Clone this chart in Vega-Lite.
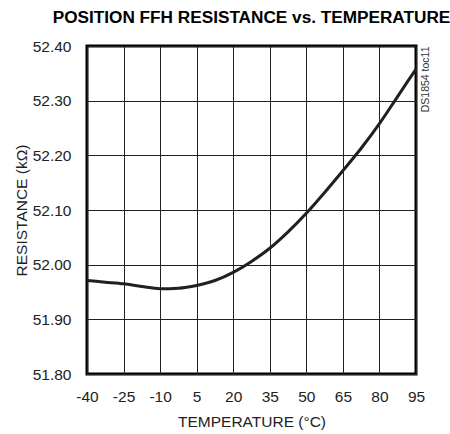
{
  "$schema": "https://vega.github.io/schema/vega-lite/v6.json",
  "width": 329,
  "height": 328,
  "autosize": {"type": "none"},
  "padding": {"left": 87, "top": 46, "right": 34, "bottom": 60},
  "background": "white",
  "title": {
    "text": "POSITION FFH RESISTANCE vs. TEMPERATURE",
    "font": "Liberation Sans",
    "fontSize": 17.2,
    "fontWeight": "bold",
    "color": "black",
    "anchor": "middle",
    "offset": 13
  },
  "config": {
    "view": {"stroke": "black", "strokeWidth": 3},
    "axis": {
      "labelFont": "Liberation Sans",
      "labelFontSize": 15.5,
      "labelColor": "#222",
      "labelOverlap": false,
      "titleFont": "Liberation Sans",
      "titleFontSize": 15.5,
      "titleFontWeight": "normal",
      "titleColor": "#222",
      "gridColor": "#222",
      "gridWidth": 1,
      "gridOpacity": 1,
      "domain": false,
      "ticks": false
    }
  },
  "data": {
    "values": [
      {"t": -40, "r": 51.971},
      {"t": -32.5, "r": 51.968},
      {"t": -25, "r": 51.965},
      {"t": -17.5, "r": 51.960},
      {"t": -10, "r": 51.956},
      {"t": -2.5, "r": 51.957},
      {"t": 5, "r": 51.962},
      {"t": 12.5, "r": 51.971},
      {"t": 20, "r": 51.986},
      {"t": 27.5, "r": 52.006},
      {"t": 35, "r": 52.030},
      {"t": 42.5, "r": 52.060},
      {"t": 50, "r": 52.094},
      {"t": 57.5, "r": 52.132},
      {"t": 65, "r": 52.172},
      {"t": 72.5, "r": 52.213},
      {"t": 80, "r": 52.258},
      {"t": 87.5, "r": 52.308},
      {"t": 95, "r": 52.358}
    ]
  },
  "layer": [
    {
      "mark": {"type": "line", "color": "#231f20", "strokeWidth": 3, "interpolate": "monotone", "clip": true},
      "encoding": {
        "x": {
          "field": "t", "type": "quantitative",
          "scale": {"domain": [-40, 95], "nice": false, "zero": false},
          "axis": {"values": [-40, -25, -10, 5, 20, 35, 50, 65, 80, 95], "labelExpr": "'' + datum.value", "title": "TEMPERATURE (°C)", "labelPadding": 15, "titlePadding": 10, "labelFlush": false, "labelOverlap": false}
        },
        "y": {
          "field": "r", "type": "quantitative",
          "scale": {"domain": [51.8, 52.4], "nice": false, "zero": false},
          "axis": {"values": [51.8, 51.9, 52.0, 52.1, 52.2, 52.3, 52.4], "format": ".2f", "title": "RESISTANCE (kΩ)", "labelPadding": 16, "titlePadding": 3}
        }
      }
    },
    {
      "mark": {"type": "line", "opacity": 0},
      "encoding": {
        "x": {
          "field": "t", "type": "quantitative",
          "axis": {"values": [-40, -25, -10, 5, 20, 35, 50, 65, 80, 95], "labelExpr": "'' + datum.value", "title": "TEMPERATURE (°C)", "labelPadding": 15, "titlePadding": 10, "labelFlush": false, "labelOverlap": false}
        },
        "y": {
          "field": "r", "type": "quantitative",
          "axis": {"orient": "right", "labels": false, "grid": false, "title": "DS1854 toc11", "titleFontSize": 10.5, "titleAngle": 270, "titleAnchor": "end", "titlePadding": 14, "titleColor": "#333"}
        }
      }
    }
  ],
  "resolve": {"axis": {"y": "independent"}}
}
